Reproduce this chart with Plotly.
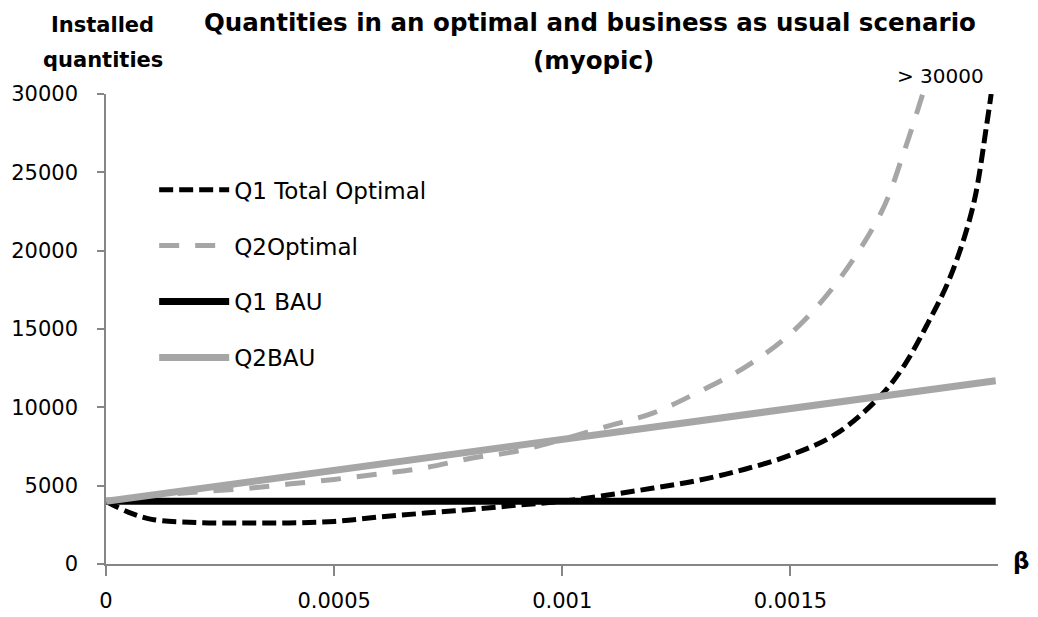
import plotly.graph_objects as go

# Q1 total optimal quantity vs beta
beta_q1 = [0, 0.00005, 0.0001, 0.0002, 0.0003, 0.0004, 0.0005, 0.0006, 0.0007,
           0.0008, 0.0009, 0.001, 0.0011, 0.0012, 0.0013, 0.0014, 0.0015, 0.0016,
           0.0017, 0.00175, 0.0018, 0.00185, 0.0019, 0.00193, 0.00194]
q1_optimal = [4000, 3300, 2850, 2650, 2620, 2620, 2720, 3000, 3250,
              3480, 3750, 4000, 4400, 4850, 5350, 6050, 6950, 8300,
              10800, 12700, 15300, 18300, 22800, 28000, 30000]

# Q2 optimal quantity vs beta
beta_q2 = [0, 0.0001, 0.0002, 0.0003, 0.0004, 0.0005, 0.0006, 0.0007, 0.0008,
           0.0009, 0.001, 0.0011, 0.0012, 0.0013, 0.0014, 0.0015, 0.0016,
           0.0017, 0.00175, 0.00179]
q2_optimal = [4000, 4350, 4600, 4800, 5100, 5400, 5750, 6150, 6750,
              7200, 7950, 8800, 9650, 11000, 12550, 14700, 17900,
              22500, 26400, 30000]

# Business-as-usual quantities
beta_bau = [0, 0.0005, 0.001, 0.0015, 0.00195]
q1_bau = [4000, 4000, 4000, 4000, 4000]
q2_bau = [4000, 6000, 8000, 9950, 11700]

x_ticks = [0, 0.0005, 0.001, 0.0015]
x_tick_text = ["0", "0.0005", "0.001", "0.0015"]
y_ticks = [0, 5000, 10000, 15000, 20000, 25000, 30000]

FONT = "DejaVu Sans"
BLACK = "#000000"
GREY = "#a6a6a6"
AXIS = "#868686"

fig = go.Figure()
fig.add_trace(go.Scatter(
    x=beta_q1, y=q1_optimal, name="Q1 Total Optimal", mode="lines",
    line=dict(color=BLACK, width=5, dash="14px,6px", shape="spline", smoothing=1),
    legendgroup="a"))
fig.add_trace(go.Scatter(
    x=beta_q2, y=q2_optimal, name="Q2Optimal", mode="lines",
    line=dict(color=GREY, width=5, dash="20px,16px", shape="spline", smoothing=1),
    legendgroup="b"))
fig.add_trace(go.Scatter(
    x=beta_bau, y=q1_bau, name="Q1 BAU", mode="lines",
    line=dict(color=BLACK, width=7), legendgroup="c"))
fig.add_trace(go.Scatter(
    x=beta_bau, y=q2_bau, name="Q2BAU", mode="lines",
    line=dict(color=GREY, width=7), legendgroup="d"))

fig.update_layout(
    width=1038, height=617,
    margin=dict(l=106, r=40, t=94, b=53, autoexpand=False),
    paper_bgcolor="white", plot_bgcolor="white",
    font=dict(family=FONT, size=21, color=BLACK),
    showlegend=True,
    legend=dict(
        x=0.054, y=0.842, xanchor="left", yanchor="top",
        bgcolor="rgba(0,0,0,0)", itemwidth=70, tracegroupgap=23,
        traceorder="grouped", font=dict(family=FONT, size=23, color=BLACK)),
    xaxis=dict(
        range=[0, 0.001955], tickvals=x_ticks, ticktext=x_tick_text,
        showgrid=False, zeroline=False, showline=True, linecolor=AXIS, linewidth=1.5,
        ticks="outside", ticklen=10, tickcolor=AXIS, tickwidth=1.5,
        ticklabelstandoff=7, tickfont=dict(size=21), automargin=False),
    yaxis=dict(
        range=[0, 30000], tickvals=y_ticks,
        showgrid=False, zeroline=False, showline=True, linecolor=AXIS, linewidth=1.5,
        ticks="outside", ticklen=7, tickcolor=AXIS, tickwidth=1.5,
        ticklabelstandoff=15, tickformat="d", tickfont=dict(size=21), automargin=False),
    annotations=[
        dict(text="<b>Quantities in an optimal and business as usual scenario</b>",
             xref="paper", yref="paper", x=0.5426, y=1.153,
             xanchor="center", yanchor="middle", showarrow=False, font=dict(size=24.5)),
        dict(text="<b>(myopic)</b>",
             xref="paper", yref="paper", x=0.546, y=1.072,
             xanchor="center", yanchor="middle", showarrow=False, font=dict(size=24.5)),
        dict(text="<b>Installed</b>", xref="paper", yref="paper",
             x=-0.0034, y=1.147, xanchor="center", yanchor="middle", showarrow=False,
             font=dict(size=21)),
        dict(text="<b>quantities</b>", xref="paper", yref="paper",
             x=-0.0034, y=1.072, xanchor="center", yanchor="middle", showarrow=False,
             font=dict(size=21)),
        dict(text="> 30000", xref="x", yref="y", x=0.00183, y=30000,
             yshift=18, xanchor="center", yanchor="middle", showarrow=False,
             font=dict(size=20)),
        dict(text="<b>β</b>", xref="paper", yref="paper", x=1.026, y=0.006,
             xanchor="center", yanchor="middle", showarrow=False,
             font=dict(size=23)),
    ],
)

fig.write_html("out.html")
